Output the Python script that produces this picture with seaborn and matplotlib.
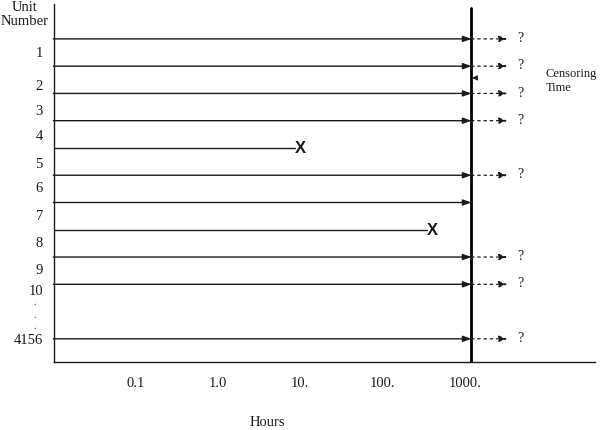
import matplotlib
matplotlib.use("Agg")
import matplotlib.pyplot as plt
import matplotlib.transforms as mtrans
import seaborn as sns
import pandas as pd

# ---- data ----
unit_labels = ["1", "2", "3", "4", "5", "6", "7", "8", "9", "10", "4156"]
unit_pos = [1, 2, 3, 4, 5, 6, 7, 8, 9, 10, 12]
end_hours = [1200, 1200, 1200, 1200, 10, 1200, 1200, 400, 1200, 1200, 1200]
failed = [False, False, False, False, True, False, False, True, False, False, False]
continues = [True, True, True, True, False, True, False, False, True, True, True]
censor_time = 1200
start_hours = 0.01
unknown_end = 3300
question_at = 4700
xtick_vals = [0.1, 1, 10, 100, 1000]
xtick_labels = ["0.1", "1.0", "10.", "100.", "1000."]

# ---- style ----
sns.set_style("white")
plt.rcParams["font.family"] = ["Liberation Serif", "DejaVu Serif"]
ink = "#1a1a1a"
label_offsets = [0.45, 0.66, 0.58, 0.5, 0.53, 0.41, 0.44, 0.43, 0.39, 0.18, -0.03]

fig = plt.figure(figsize=(6.0, 4.31), dpi=100)
ax = fig.add_axes([54 / 600, 1 - 363 / 431, 541 / 600, 358 / 431])
ax.set_xscale("log")
ax.set_xlim(0.0102, 38000)
ax.set_ylim(12.85, -0.28)

df = pd.DataFrame({"unit": unit_labels, "pos": unit_pos, "end": end_hours,
                   "failed": failed, "cont": continues})

# solid lifelines
for _, r in df.iterrows():
    if r["failed"]:
        ax.plot([start_hours, r["end"] * 0.86], [r["pos"], r["pos"]], color=ink, lw=1.0)
        ax.text(r["end"], r["pos"], "X", family="Liberation Sans", fontweight="bold",
                fontsize=12, ha="center", va="center", color=ink)
    else:
        ax.annotate("", xy=(r["end"], r["pos"]), xytext=(start_hours, r["pos"]),
                    arrowprops=dict(arrowstyle="-|>,head_length=0.5,head_width=0.18",
                                    color=ink, lw=1.0, shrinkA=0, shrinkB=0,
                                    mutation_scale=10))
    if r["cont"]:
        ax.annotate("", xy=(unknown_end, r["pos"]), xytext=(censor_time, r["pos"]),
                    arrowprops=dict(arrowstyle="-|>,head_length=0.5,head_width=0.18",
                                    color=ink, lw=0.9, ls=(0, (2, 3)), shrinkA=0, shrinkB=0,
                                    mutation_scale=10))
        ax.text(question_at, r["pos"] - 0.05, "?", fontsize=10, ha="center", va="center", color=ink)

# censoring line
ax.axvline(censor_time, color="black", lw=2.0, ymax=0.99)

# censoring time label and pointer
ax.text(9600, 2.5, "Censoring\nTime", fontsize=9, ha="left", va="center",
        linespacing=1.2, color=ink)
ax.annotate("", xy=(censor_time * 1.02, 2.43), xytext=(censor_time * 1.12, 2.43),
            arrowprops=dict(arrowstyle="-|>,head_length=0.4,head_width=0.2",
                            color=ink, lw=0.6, shrinkA=0, shrinkB=0, mutation_scale=8))

# axes styling
for s in ["top", "right"]:
    ax.spines[s].set_visible(False)
for s in ["left", "bottom"]:
    ax.spines[s].set_color(ink)
    ax.spines[s].set_linewidth(1.0)

ax.set_xticks(xtick_vals)
ax.set_xticklabels(xtick_labels, fontsize=10.5)
ax.minorticks_off()
ax.tick_params(axis="x", direction="out", length=9, width=0.8, pad=1, colors=ink)
ax.xaxis.get_major_ticks()[0].tick1line.set_visible(False)

ax.set_yticks([p + o for p, o in zip(unit_pos, label_offsets)])
ax.set_yticklabels(unit_labels, fontsize=10.5)
ax.tick_params(axis="y", length=0, pad=8, colors=ink)

# vertical ellipsis between 10 and 4156
tr = mtrans.blended_transform_factory(ax.transAxes, ax.transData)
for yy in [10.74, 11.19, 11.62]:
    ax.text(-0.035, yy, ".", transform=tr, fontsize=7, ha="center", va="baseline", color=ink)

ax.set_xlabel("Hours", fontsize=10.5, color=ink)
ax.xaxis.set_label_coords(0.394, -0.148)

fig.text(25 / 600, 1 - 1 / 431, "Unit\nNumber", fontsize=10.5, ha="center", va="top",
         linespacing=1.1, color=ink)

fig.savefig("out.png", dpi=100)
